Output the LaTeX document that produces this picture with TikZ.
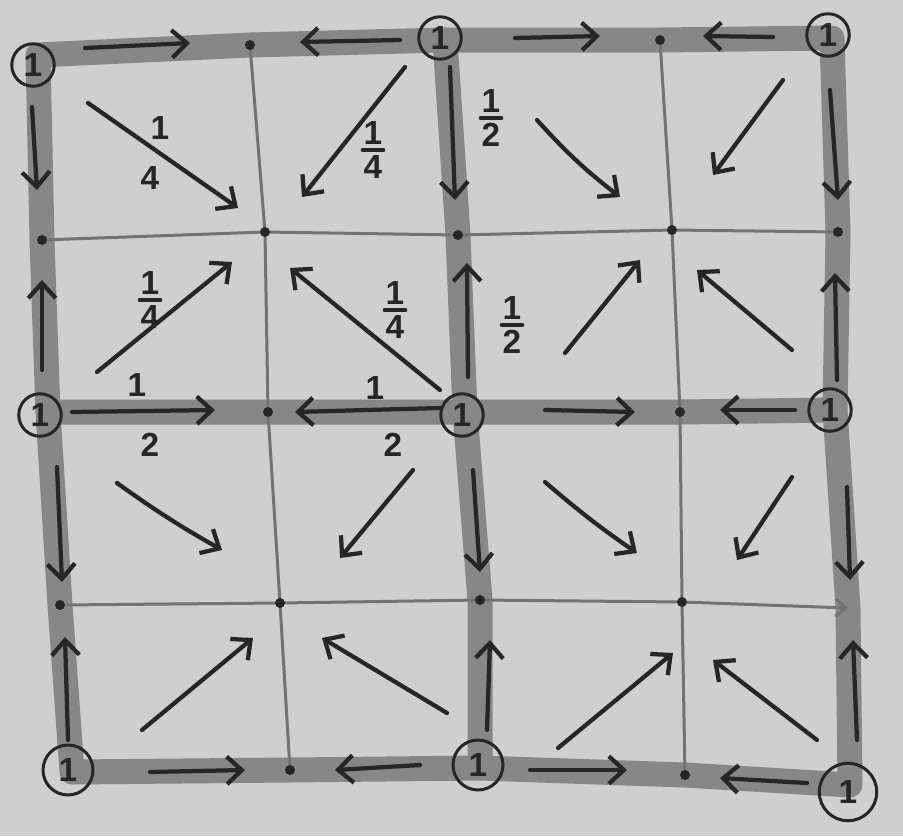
\documentclass[tikz,border=0pt]{standalone}
\usepackage{fontspec}
\setmainfont{Liberation Sans}
\usetikzlibrary{arrows.meta}
\tikzset{
  paper/.style={fill=black!19},
  bar/.style={draw=black!47, line width=0.5cm, line join=round, line cap=round},
  thin/.style={draw=black!55, line width=0.06cm, line join=round},
  arr/.style={draw=black!85, line width=0.085cm, line cap=round,
     -{Straight Barb[length=0.3cm,width=0.55cm,line width=0.085cm]}},
  dotn/.style={circle, fill=black!85, inner sep=0pt, minimum size=0.2cm},
  one/.style={circle, draw=black!85, line width=0.06cm, minimum size=0.85cm, inner sep=0pt,
     text=black!85, font=\fontsize{19}{19}\selectfont\bfseries},
  lab/.style={inner sep=0pt, text=black!85, font=\fontsize{19}{19}\selectfont\bfseries},
  fbar/.style={draw=black!85, line width=0.07cm, line cap=round}
}
\newcommand{\fracnode}[4]{%
  \coordinate (#1) at (#2);
  \node[lab,above=3pt] (#1-n) at (#1) {#3};
  \node[lab,below=3pt] (#1-d) at (#1) {#4};
  \draw[fbar] ([xshift=-6pt]#1) -- ([xshift=6pt]#1);}
\begin{document}
\begin{tikzpicture}[x=0.02cm,y=-0.02cm]
\fill[paper] (0,0) rectangle (903,836);
\useasboundingbox (0,0) rectangle (903,836);

% grid points
\coordinate (TL) at (38,55);  \coordinate (T1) at (250,45);  \coordinate (TM) at (445,40);
\coordinate (T3) at (660,40); \coordinate (TR) at (832,38);
\coordinate (L1) at (42,240); \coordinate (C11) at (265,232); \coordinate (M1) at (458,235);
\coordinate (C12) at (672,230); \coordinate (R1) at (838,232);
\coordinate (ML) at (48,412); \coordinate (H1) at (268,412); \coordinate (MM) at (465,412);
\coordinate (H3) at (680,412); \coordinate (MR) at (835,410);
\coordinate (L3) at (60,605); \coordinate (C21) at (280,603); \coordinate (M3) at (480,600);
\coordinate (C22) at (682,602); \coordinate (R3) at (848,608);
\coordinate (BL) at (72,772); \coordinate (B1) at (290,770); \coordinate (BM) at (480,768);
\coordinate (B3) at (685,775); \coordinate (BR) at (850,785);

% thick bars
\draw[bar] (TL) -- (T1) -- (TM) -- (T3) -- (TR) -- (R1) -- (MR) -- (R3) -- (BR)
  -- (B3) -- (BM) -- (B1) -- (BL) -- (L3) -- (ML) -- (L1) -- cycle;
\draw[bar] (TM) -- (M1) -- (MM) -- (M3) -- (BM);
\draw[bar] (ML) -- (H1) -- (MM) -- (H3) -- (MR);

% thin lines
\draw[thin] (T1) -- (C11) -- (H1) -- (C21) -- (B1);
\draw[thin] (T3) -- (C12) -- (H3) -- (C22) -- (B3);
\draw[thin] (L1) -- (C11) -- (M1) -- (C12) -- (R1);
\draw[thin] (L3) -- (C21) -- (M3) -- (C22);
\draw[thin, -{Straight Barb[length=0.2cm,width=0.35cm,line width=0.06cm]}] (C22) -- (R3);

% fine dots
\foreach \p in {T1,T3,L1,C11,M1,C12,R1,H1,H3,L3,C21,M3,C22,B1,B3}
  \node[dotn] (d\p) at (\p) {};

% circled ones
\node[one] (oTL) at (33,65) {1};
\node[one] (oTM) at (440,38) {1};
\node[one] (oTR) at (828,35) {1};
\node[one] (oML) at (40,415) {1};
\node[one] (oMM) at (462,415) {1};
\node[one] (oMR) at (830,410) {1};
\node[one, minimum size=1cm] (oBL) at (68,770) {1};
\node[one, minimum size=1cm] (oBM) at (478,765) {1};
\node[one, minimum size=1.15cm] (oBR) at (848,792) {1};

% arrows on bars: top
\draw[arr] (85,48) -- (190,43);
\draw[arr] (400,40) -- (300,42);
\draw[arr] (515,38) -- (600,36);
\draw[arr] (773,37) -- (703,36);
% middle row
\draw[arr] (72,412) -- (215,410);
\draw[arr] (440,408) -- (295,412);
\draw[arr] (545,410) -- (635,412);
\draw[arr] (795,410) -- (720,410);
% bottom
\draw[arr] (150,772) -- (245,770);
\draw[arr] (420,765) -- (335,770);
\draw[arr] (530,770) -- (627,770);
\draw[arr] (807,783) -- (720,778);
% left column
\draw[arr] (32,107) -- (37,190);
\draw[arr] (42,370) -- (42,280);
\draw[arr] (57,467) -- (62,582);
\draw[arr] (68,740) -- (65,637);
% middle column
\draw[arr] (450,67) -- (455,200);
\draw[arr] (468,377) -- (467,263);
\draw[arr] (473,470) -- (480,572);
\draw[arr] (487,730) -- (490,640);
% right column
\draw[arr] (830,90) -- (838,200);
\draw[arr] (837,380) -- (835,273);
\draw[arr] (847,487) -- (850,580);
\draw[arr] (857,740) -- (853,640);

% diagonal arrows: top-left cell
\draw[arr] (88,103) -- (238,208);
\draw[arr] (405,67) -- (302,197);
\draw[arr] (97,372) -- (232,262);
\draw[arr] (440,390) -- (290,268);
% top-right cell
\draw[arr] (537,120) to[bend right=5] (620,197);
\draw[arr] (783,80) -- (713,175);
\draw[arr] (565,353) -- (640,260);
\draw[arr] (792,350) -- (697,270);
% bottom-left cell
\draw[arr] (117,483) to[bend right=3] (222,550);
\draw[arr] (413,470) -- (340,558);
\draw[arr] (142,730) -- (253,638);
\draw[arr] (447,713) -- (322,638);
% bottom-right cell
\draw[arr] (545,482) to[bend right=3] (637,553);
\draw[arr] (792,477) -- (737,560);
\draw[arr] (558,748) -- (673,653);
\draw[arr] (817,740) -- (713,660);

% labels
\node[lab] (q1n) at (160,128) {1};
\node[lab] (q1d) at (150,178) {4};
\fracnode{q2}{373,150}{1}{4}
\fracnode{q3}{150,300}{1}{4}
\fracnode{q4}{395,310}{1}{4}
\node[lab] (h1n) at (137,385) {1};
\node[lab] (h1d) at (150,445) {2};
\node[lab] (h2n) at (375,388) {1};
\node[lab] (h2d) at (393,445) {2};
\fracnode{v1}{491,118}{1}{2}
\fracnode{v2}{512,325}{1}{2}
\end{tikzpicture}
\end{document}
